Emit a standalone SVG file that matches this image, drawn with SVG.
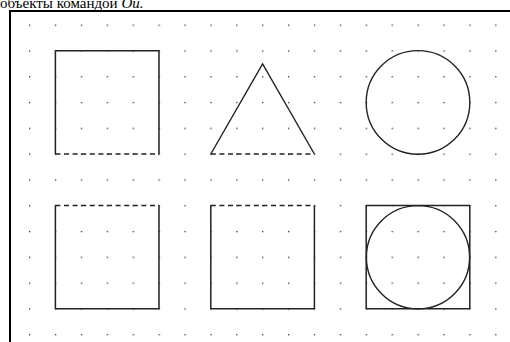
<svg xmlns="http://www.w3.org/2000/svg" width="510" height="342" viewBox="0 0 510 342">
<style>
.ln{fill:none;stroke:#222;stroke-width:1.5;stroke-linecap:square}
.h{stroke-dasharray:24.9 1;stroke-dashoffset:-0.5}
.v{stroke-dasharray:24.8 1;stroke-dashoffset:-0.5}
.d{stroke-dasharray:5 3.6;stroke-linecap:butt}
.s{fill:none;stroke:#222;stroke-width:1.4}
.cap{font-family:"Liberation Serif","Times New Roman",serif;font-size:15px;fill:#000}
</style>
<defs>
<pattern id="dots" x="29" y="24.5" width="25.9" height="25.8" patternUnits="userSpaceOnUse">
<rect width="1.3" height="1.3" fill="#333"/>
</pattern>
</defs>
<rect width="510" height="342" fill="#fff"/>
<text class="cap" x="0" y="8">объекты командой <tspan font-style="italic">Ou.</tspan></text>
<g id="frame">
<rect x="11" y="12" width="499" height="330" fill="url(#dots)"/>
<line x1="10" y1="11" x2="510" y2="11" stroke="#000" stroke-width="2"/>
<line x1="10" y1="10" x2="10" y2="342" stroke="#000" stroke-width="2"/>
</g>
<g id="square1">
<path class="ln h" d="M55.4 50.8H159"/>
<path class="ln v" d="M55.4 50.8V154"/>
<path class="ln v" d="M159 50.8V154"/>
<path class="ln d" d="M55.4 154H159"/>
</g>
<g id="triangle">
<path class="s" d="M210.8 154L262.6 64L314.4 154"/>
<path class="ln d" d="M210.8 154H314.4"/>
</g>
<g id="circle">
<circle class="s" cx="418" cy="102.4" r="51.8"/>
</g>
<g id="square2">
<path class="ln d" d="M55.4 205.6H159"/>
<path class="ln v" d="M55.4 205.6V308.8"/>
<path class="ln v" d="M159 205.6V308.8"/>
<path class="ln h" d="M55.4 308.8H159"/>
</g>
<g id="square3">
<path class="ln d" d="M210.8 205.6H314.4"/>
<path class="ln v" d="M210.8 205.6V308.8"/>
<path class="ln v" d="M314.4 205.6V308.8"/>
<path class="ln h" d="M210.8 308.8H314.4"/>
</g>
<g id="square-circle">
<path class="ln h" d="M366.2 205.6H469.8"/>
<path class="ln v" d="M366.2 205.6V308.8"/>
<path class="ln v" d="M469.8 205.6V308.8"/>
<path class="ln h" d="M366.2 308.8H469.8"/>
<circle class="s" cx="418" cy="257.2" r="51.6"/>
</g>
<g id="connectors"/>
</svg>
